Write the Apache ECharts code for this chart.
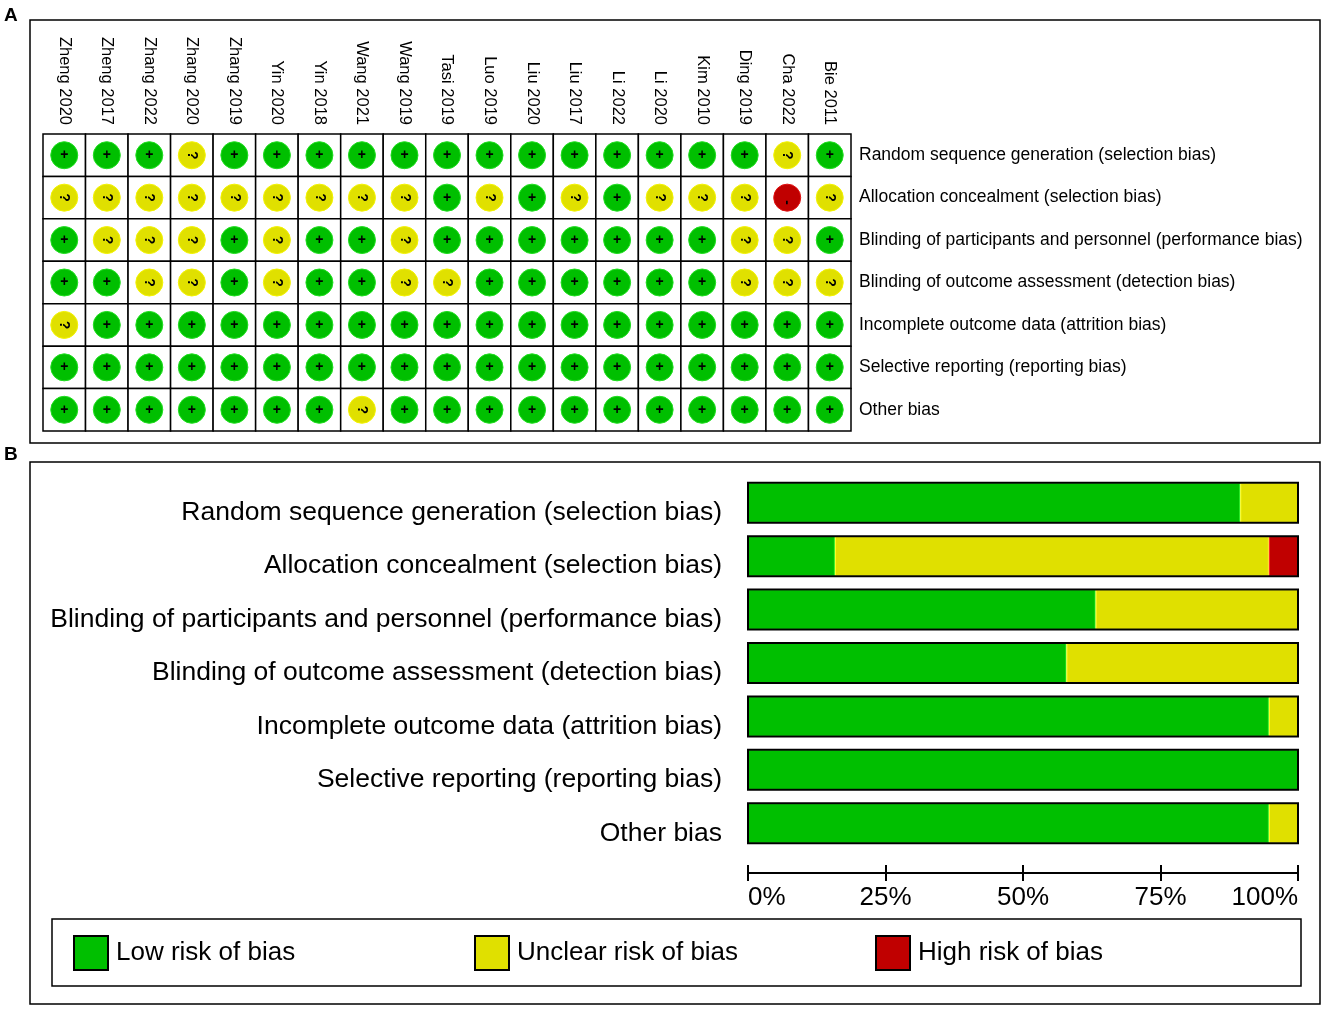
<!DOCTYPE html>
<html>
<head>
<meta charset="utf-8">
<script src="https://cdn.jsdelivr.net/npm/echarts@6/dist/echarts.min.js"></script>
<style>
html,body{margin:0;padding:0;background:#fff;}
#chart{width:1325px;height:1010px;}
</style>
</head>
<body>
<div id="chart"></div>
<script>
// ---------- DATA ----------
const studies = ['Zheng 2020','Zheng 2017','Zhang 2022','Zhang 2020','Zhang 2019','Yin 2020','Yin 2018','Wang 2021','Wang 2019','Tasi 2019','Luo 2019','Liu 2020','Liu 2017','Li 2022','Li 2020','Kim 2010','Ding 2019','Cha 2022','Bie 2011'];
const domains = ['Random sequence generation (selection bias)','Allocation concealment (selection bias)','Blinding of participants and personnel (performance bias)','Blinding of outcome assessment (detection bias)','Incomplete outcome data (attrition bias)','Selective reporting (reporting bias)','Other bias'];
// L = low, U = unclear, H = high (one entry per study, same order as studies)
const randomSequence   = ['L','L','L','U','L','L','L','L','L','L','L','L','L','L','L','L','L','U','L'];
const allocation       = ['U','U','U','U','U','U','U','U','U','L','U','L','U','L','U','U','U','H','U'];
const blindingPart     = ['L','U','U','U','L','U','L','L','U','L','L','L','L','L','L','L','U','U','L'];
const blindingOutcome  = ['L','L','U','U','L','U','L','L','U','U','L','L','L','L','L','L','U','U','U'];
const incompleteData   = ['U','L','L','L','L','L','L','L','L','L','L','L','L','L','L','L','L','L','L'];
const selectiveReport  = ['L','L','L','L','L','L','L','L','L','L','L','L','L','L','L','L','L','L','L'];
const otherBias        = ['L','L','L','L','L','L','L','U','L','L','L','L','L','L','L','L','L','L','L'];
const judgementRows = [randomSequence, allocation, blindingPart, blindingOutcome, incompleteData, selectiveReport, otherBias];

// Panel B: percentage of studies per judgement (per domain, same order as domains)
const lowPct     = [89.5, 15.8, 63.2, 57.9, 94.7, 100, 94.7];
const unclearPct = [10.5, 78.9, 36.8, 42.1, 5.3, 0, 5.3];
const highPct    = [0, 5.3, 0, 0, 0, 0, 0];
const legendNames = ['Low risk of bias','Unclear risk of bias','High risk of bias'];

// ---------- STYLE ----------
const FONT = '"Liberation Sans", Arial, sans-serif';
const COL = {
  L: {fill:'#00bf00', edge:'#20e020', sym:'+'},
  U: {fill:'#e0e000', edge:'#f4f400', sym:'?'},
  H: {fill:'#c00000', edge:'#e01010', sym:'-'}
};
const codeIdx = {L:0, U:1, H:2};
const codeList = ['L','U','H'];

const summaryData = [];
judgementRows.forEach((row, r) => {
  row.forEach((c, s) => summaryData.push([s, r, codeIdx[c]]));
});

function renderCell(params, api) {
  const xi = api.value(0), yi = api.value(1);
  const code = codeList[api.value(2)];
  const p = api.coord([xi, yi]);
  const sz = api.size([1, 1]);
  const st = COL[code];
  const children = [
    {type:'rect', shape:{x:p[0]-sz[0]/2, y:p[1]-sz[1]/2, width:sz[0], height:sz[1]},
     style:{fill:'#fff', stroke:'#000', lineWidth:1.5}},
    {type:'circle', shape:{cx:p[0], cy:p[1], r:13.5},
     style:{fill:st.fill, stroke:st.edge, lineWidth:1}},
    {type:'text', x:p[0], y:p[1] + (code==='H'?5:0), rotation: code==='L'?0:-Math.PI/2,
     style:{text:st.sym, x:0, y:0, align:'center', verticalAlign:'middle',
            font:'bold 14px ' + FONT, fill:'#000'}}
  ];
  return {type:'group', children};
}

function renderOutline(params, api) {
  const yi = api.value(0);
  const a = api.coord([0, yi]);
  const b = api.coord([api.value(1), yi]);
  return {type:'rect', shape:{x:a[0], y:a[1]-20, width:b[0]-a[0], height:40},
          style:{fill:'none', stroke:'#000', lineWidth:2}};
}

const chart = echarts.init(document.getElementById('chart'), null, {renderer:'canvas'});
const legendBase = {
  orient:'horizontal', itemWidth:34, itemHeight:34, icon:'rect', padding:0,
  selectedMode:false, top:935,
  textStyle:{fontSize:26, fontFamily:FONT, color:'#000', padding:[4,0,0,3]}
};
const legendColors = [COL.L, COL.U, COL.H];
const legendLefts = [73, 474, 875];

chart.setOption({
  animation:false,
  backgroundColor:'#fff',
  textStyle:{fontFamily:FONT, color:'#000'},
  graphic:[
    {type:'rect', shape:{x:30, y:20, width:1290, height:423}, style:{fill:'none', stroke:'#000', lineWidth:1.5}, z:-1},
    {type:'rect', shape:{x:30, y:462, width:1290, height:542}, style:{fill:'none', stroke:'#000', lineWidth:1.5}, z:-1},
    {type:'rect', shape:{x:52, y:919, width:1249, height:67}, style:{fill:'none', stroke:'#000', lineWidth:1.5}, z:-1},
    {type:'text', left:4, top:6, style:{text:'A', font:'bold 19px ' + FONT, fill:'#000'}},
    {type:'text', left:4, top:445, style:{text:'B', font:'bold 19px ' + FONT, fill:'#000'}}
  ],
  legend: legendNames.map((n, i) => Object.assign({}, legendBase, {
    left: legendLefts[i],
    data:[{name:n, itemStyle:{color:legendColors[i].fill, borderColor:'#000', borderWidth:2}}]
  })),
  grid:[
    {left:43, top:134, width:808, height:297},
    {left:748, top:476, width:550, height:374}
  ],
  xAxis:[
    {gridIndex:0, type:'category', data:studies, position:'top',
     axisLine:{show:false}, axisTick:{show:false}, splitLine:{show:false},
     axisLabel:{rotate:90, fontSize:16.5, color:'#000', margin:9, fontFamily:FONT}},
    {gridIndex:1, type:'value', min:0, max:100, interval:25, position:'bottom', offset:23,
     axisLine:{show:true, lineStyle:{color:'#000', width:2}},
     axisTick:{show:true, inside:false, length:8, lineStyle:{color:'#000', width:2}},
     splitLine:{show:false},
     axisLabel:{formatter:'{value}%', fontSize:26, color:'#000', margin:12, fontFamily:FONT,
                alignMinLabel:'left', alignMaxLabel:'right'}},
    {gridIndex:1, type:'value', min:0, max:100, interval:25, position:'bottom', offset:23,
     axisLine:{show:false}, axisLabel:{show:false}, splitLine:{show:false},
     axisTick:{show:true, inside:true, length:8, lineStyle:{color:'#000', width:2}}}
  ],
  yAxis:[
    {gridIndex:0, type:'category', data:domains, inverse:true, position:'right',
     axisLine:{show:false}, axisTick:{show:false}, splitLine:{show:false},
     axisLabel:{fontSize:17.5, color:'#000', margin:8, align:'left', fontFamily:FONT}},
    {gridIndex:1, type:'category', data:domains, inverse:true, position:'left',
     axisLine:{show:false}, axisTick:{show:false}, splitLine:{show:false},
     axisLabel:{fontSize:26.5, color:'#000', margin:26, fontFamily:FONT,
                verticalAlign:'top', lineHeight:20}}
  ],
  series:[
    {type:'custom', xAxisIndex:0, yAxisIndex:0, renderItem:renderCell, data:summaryData, silent:true},
    {name:legendNames[0], type:'bar', stack:'b', xAxisIndex:1, yAxisIndex:1, barWidth:40, data:lowPct,
     itemStyle:{color:COL.L.fill, borderColor:'#20f020', borderWidth:1}},
    {name:legendNames[1], type:'bar', stack:'b', xAxisIndex:1, yAxisIndex:1, barWidth:40, data:unclearPct,
     itemStyle:{color:COL.U.fill, borderColor:'#ffff20', borderWidth:1}},
    {name:legendNames[2], type:'bar', stack:'b', xAxisIndex:1, yAxisIndex:1, barWidth:40, data:highPct,
     itemStyle:{color:COL.H.fill, borderColor:'#ff2020', borderWidth:1}},
    {type:'custom', xAxisIndex:1, yAxisIndex:1, silent:true, z:10,
     renderItem:renderOutline,
     data: domains.map((d, i) => [i, lowPct[i] + unclearPct[i] + highPct[i]])}
  ]
});
</script>
</body>
</html>
